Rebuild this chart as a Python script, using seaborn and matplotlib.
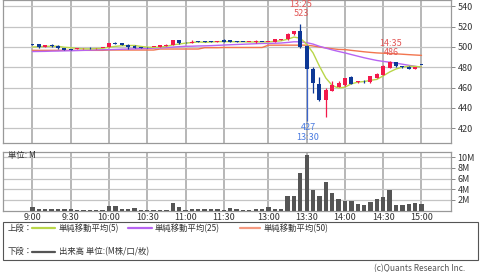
import numpy as np
import pandas as pd
import matplotlib
matplotlib.use("Agg")
import matplotlib.pyplot as plt
from matplotlib.lines import Line2D
from matplotlib.patches import Rectangle
import seaborn as sns

# ---------------- data ----------------
tick_labels = ['9:00', '9:30', '10:00', '10:30', '11:00', '11:30',
               '13:00', '13:30', '14:00', '14:30', '15:00']
tick_bars = [0, 6, 12, 18, 24, 30, 37, 43, 49, 55, 61]

opens = [502.8, 502.6, 500.0, 502.2, 501.0, 498.7, 497.9, 498.0, 498.6, 498.9,
         498.6, 498.7, 499.7, 503.4, 503.6, 502.3, 501.3, 499.5, 499.9, 500.0,
         499.7, 500.7, 502.0, 506.9, 505.0, 504.4, 505.6, 506.0, 505.6, 505.0,
         507.0, 506.9, 506.0, 505.1, 504.9, 504.8, 505.2, 505.0, 505.2, 507.3,
         507.5, 512.5, 515.7, 501.0, 478.0, 463.5, 447.6, 457.0, 461.0, 462.5,
         470.5, 465.3, 466.3, 465.3, 469.5, 472.3, 479.7, 484.8, 480.6, 480.5,
         478.2, 482.3]
highs = [503.3, 503.4, 502.3, 502.6, 501.5, 499.0, 498.0, 498.7, 499.0, 499.5,
         498.8, 498.9, 504.2, 504.5, 503.8, 502.5, 501.5, 499.6, 500.0, 500.2,
         502.0, 502.6, 507.2, 507.3, 505.2, 507.0, 506.2, 506.3, 505.7, 506.3,
         507.4, 507.3, 506.3, 505.2, 505.0, 506.6, 505.3, 505.2, 507.8, 507.6,
         513.3, 516.0, 523.0, 502.0, 480.0, 470.5, 459.5, 466.0, 466.0, 469.5,
         471.5, 466.5, 467.5, 471.5, 474.0, 482.0, 486.0, 485.3, 481.0, 481.0,
         480.5, 482.5]
lows = [502.0, 499.2, 499.8, 500.3, 498.3, 497.0, 497.2, 497.9, 498.5, 498.0,
        498.5, 498.6, 499.5, 503.0, 501.5, 498.2, 498.8, 499.3, 499.3, 499.9,
        499.5, 500.5, 501.8, 503.4, 504.3, 504.3, 504.8, 504.8, 505.3, 504.8,
        504.9, 504.5, 504.8, 504.8, 504.8, 504.2, 504.9, 504.9, 505.0, 507.2,
        507.3, 512.3, 499.3, 427.0, 455.0, 447.0, 431.0, 456.5, 460.5, 462.0,
        463.5, 465.0, 465.0, 465.0, 469.0, 472.0, 479.5, 480.5, 479.5, 478.0,
        478.0, 481.8]
closes = [502.4, 499.5, 502.0, 500.6, 499.0, 497.3, 497.5, 498.5, 498.9, 498.6,
          498.7, 498.7, 504.0, 503.1, 501.7, 499.7, 499.0, 499.4, 499.5, 500.1,
          501.7, 502.3, 506.9, 503.6, 504.5, 504.7, 505.3, 505.0, 505.4, 506.0,
          505.0, 504.8, 505.0, 504.9, 504.9, 505.4, 505.0, 505.1, 507.6, 507.5,
          513.0, 515.7, 499.5, 478.0, 464.5, 447.6, 457.5, 463.0, 465.0, 469.0,
          464.0, 465.8, 466.0, 471.0, 473.5, 481.5, 484.8, 480.8, 480.3, 478.2,
          480.2, 482.0]
volume_m = [0.7, 0.3, 0.3, 0.3, 0.3, 0.35, 0.3, 0.05, 0.05, 0.05,
            0.05, 0.05, 0.8, 0.9, 0.4, 0.35, 0.45, 0.2, 0.05, 0.05,
            0.05, 0.05, 1.45, 0.7, 0.05, 0.3, 0.25, 0.25, 0.25, 0.3,
            0.1, 0.5, 0.3, 0.2, 0.2, 0.3, 0.3, 0.65, 0.25, 0.3,
            2.65, 2.65, 7.1, 10.4, 3.9, 2.65, 5.35, 3.3, 2.1, 1.9,
            1.9, 1.25, 1.1, 1.55, 2.25, 2.5, 3.85, 1.1, 1.1, 1.25,
            1.4, 1.25]
sma5_head = [500.0, 500.3, 500.6, 500.8]
sma25_head = [495.5, 495.6, 495.7, 495.9, 496.0, 496.2, 496.3, 496.5, 496.7, 496.9,
              497.1, 497.3, 497.4, 497.6, 497.8, 498.0, 498.2, 498.4, 498.6, 498.8,
              499.1, 499.5, 499.9, 500.3]
sma50_head = [496.7, 496.7, 496.7, 496.7, 496.7, 496.7, 496.7, 496.7, 496.7, 496.7,
              496.7, 496.7, 497.0, 497.0, 497.0, 497.0, 497.0, 497.0, 497.0, 497.0,
              498.0, 498.0, 498.0, 498.0, 498.0, 498.0, 498.0, 499.3, 499.3, 499.3,
              499.5, 499.5, 499.5, 499.5, 499.5, 499.5, 499.5, 501.8, 501.8, 501.8,
              501.8, 501.8, 501.8, 501.8, 501.0, 500.0, 499.1, 498.3, 497.6]

# ---------------- frame ----------------
df = pd.DataFrame({"bar": np.arange(len(closes)), "open": opens, "high": highs,
                   "low": lows, "close": closes, "vol": volume_m})
s5 = df["close"].rolling(5).mean().to_numpy()
s5[:len(sma5_head)] = sma5_head
s25 = df["close"].rolling(25).mean().to_numpy()
s25[:len(sma25_head)] = sma25_head
s50 = df["close"].rolling(50).mean().to_numpy()
s50[:len(sma50_head)] = sma50_head
df["sma5"], df["sma25"], df["sma50"] = s5, s25, s50

sns.set_style("white")
plt.rcParams["font.family"] = ["Noto Sans CJK JP", "DejaVu Sans"]

W, H = 480, 272
fig = plt.figure(figsize=(W / 100, H / 100), dpi=100)
fig.patch.set_facecolor("white")

L, R = 2.7, 450.7
ax1 = fig.add_axes([L / W, 1 - 143 / H, (R - L) / W, 143 / H])
ax2 = fig.add_axes([L / W, 1 - 210.7 / H, (R - L) / W, 59 / H])

UP = "#f3194b"
DN = "#0d3896"
C5, C25, C50 = "#b9d649", "#b764f2", "#f2754f"
GRID_V = "#aaaaaa"
GRID_H = "#c4c4c4"
XLIM = (-4.67, 65.58)

# ---- price panel ----
sns.lineplot(data=df, x="bar", y="sma50", ax=ax1, color=C50, lw=1.0, zorder=2)
sns.lineplot(data=df, x="bar", y="sma25", ax=ax1, color=C25, lw=1.0, zorder=2)
sns.lineplot(data=df, x="bar", y="sma5", ax=ax1, color=C5, lw=1.0, zorder=2)

up = df["close"] >= df["open"]
cols = np.where(up, UP, DN)
wick_cols = cols.copy()
wick_cols[43] = "#3a64cc"
ax1.vlines(df["bar"], df["low"], df["high"], colors=wick_cols, lw=0.9, zorder=3)
body_lo = np.minimum(df["open"], df["close"])
body_h = np.maximum((df["close"] - df["open"]).abs(), 0.8)
ax1.bar(df["bar"], body_h, bottom=body_lo, width=0.62, color=cols, lw=0, zorder=4)

ax1.set_xlim(*XLIM)
ax1.set_ylim(405.4, 546.3)
ax1.set_yticks([420, 440, 460, 480, 500, 520, 540])
ax1.yaxis.tick_right()
ax1.tick_params(axis="y", which="both", right=True, length=3, width=0.7,
                color="#888888", labelsize=6.5, labelcolor="#333333", pad=2)
ax1.set_xticks(tick_bars)
ax1.tick_params(axis="x", length=0, labelbottom=False)
ax1.set_xlabel("")
ax1.set_ylabel("")

# annotations
hi_i, lo_i, hi2_i = 42, 43, 56
ann_red = "#e25656"
ann_blue = "#4a7be0"
ax1.annotate("523", (hi_i, highs[hi_i]), xytext=(0.5, 7), textcoords="offset points",
             ha="center", va="center", fontsize=6.5, color=ann_red)
ax1.annotate("13:25", (hi_i, highs[hi_i]), xytext=(0.5, 13.6), textcoords="offset points",
             ha="center", va="center", fontsize=6.5, color=ann_red)
ax1.annotate("427", (lo_i, lows[lo_i]), xytext=(1, -4.5), textcoords="offset points",
             ha="center", va="center", fontsize=6.5, color=ann_blue)
ax1.annotate("13:30", (lo_i, lows[lo_i]), xytext=(0.5, -11.7), textcoords="offset points",
             ha="center", va="center", fontsize=6.5, color=ann_blue)
ax1.annotate("486", (hi2_i, highs[hi2_i]), xytext=(1, 6.2), textcoords="offset points",
             ha="center", va="center", fontsize=6.5, color=ann_red)
ax1.annotate("14:35", (hi2_i, highs[hi2_i]), xytext=(0.5, 12.5), textcoords="offset points",
             ha="center", va="center", fontsize=6.5, color=ann_red)

# ---- volume panel ----
sns.barplot(data=df, x="bar", y="vol", ax=ax2, color="#555555", width=0.68,
            saturation=1, linewidth=0, zorder=3)
ax2.set_xlim(*XLIM)
ax2.set_ylim(0, 11.0)
ax2.set_yticks([2, 4, 6, 8, 10])
ax2.set_yticklabels(["2M", "4M", "6M", "8M", "10M"])
ax2.yaxis.tick_right()
ax2.tick_params(axis="y", right=True, length=3, width=0.7, color="#888888",
                labelsize=6.5, labelcolor="#333333", pad=2)
ax2.set_xticks(tick_bars)
ax2.set_xticklabels(tick_labels)
ax2.tick_params(axis="x", length=0, labelsize=6.5, labelcolor="#333333", pad=1.5)
ax2.set_xlabel("")
ax2.set_ylabel("")
ax2.text(0.012, 0.93, "単位: M", transform=ax2.transAxes, fontsize=6,
         color="#333333", ha="left", va="center")

for ax in (ax1, ax2):
    ax.set_facecolor("white")
    ax.grid(False)
    for t in ax.get_xticks():
        ax.axvline(t, color=GRID_V, lw=1.2, zorder=0)
    for t in ax.get_yticks():
        ax.axhline(t, color=GRID_H, lw=0.9, zorder=0)
    for sp in ax.spines.values():
        sp.set_color("#999999")
        sp.set_linewidth(0.9)
    ax.spines["top"].set_visible(True)
    ax.spines["right"].set_visible(True)

# ---- legend box ----
def fx(px):
    return px / W

def fy(py):
    return 1 - py / H

fig.patches.append(Rectangle((fx(2.7), fy(260)), fx(478) - fx(2.7), fy(221.7) - fy(260),
                             transform=fig.transFigure, facecolor="white",
                             edgecolor="#555555", lw=0.8))
r1, r2 = 228.3, 251.7
fig.text(fx(8), fy(r1), "上段：", fontsize=6, color="#333333", va="center", ha="left")
fig.text(fx(8), fy(r2), "下段：", fontsize=6, color="#333333", va="center", ha="left")
legend_items = [
    (32, 55, 59, r1, C5, "単純移動平均(5)"),
    (128, 152, 155, r1, C25, "単純移動平均(25)"),
    (240, 260, 264, r1, "#f59a80", "単純移動平均(50)"),
    (32, 55, 59, r2, "#555555", "出来高 単位:(M株/口/枚)"),
]
for x0, x1, xt, yy, c, label in legend_items:
    fig.lines.append(Line2D([fx(x0), fx(x1)], [fy(yy), fy(yy)], transform=fig.transFigure,
                            color=c, lw=1.6))
    fig.text(fx(xt), fy(yy), label, fontsize=6, color="#333333", va="center", ha="left")

fig.text(fx(465), fy(268.3), "(c)Quants Research Inc.", fontsize=6, color="#555555",
         ha="right", va="center")

fig.savefig("out.png", dpi=100, facecolor="white")
